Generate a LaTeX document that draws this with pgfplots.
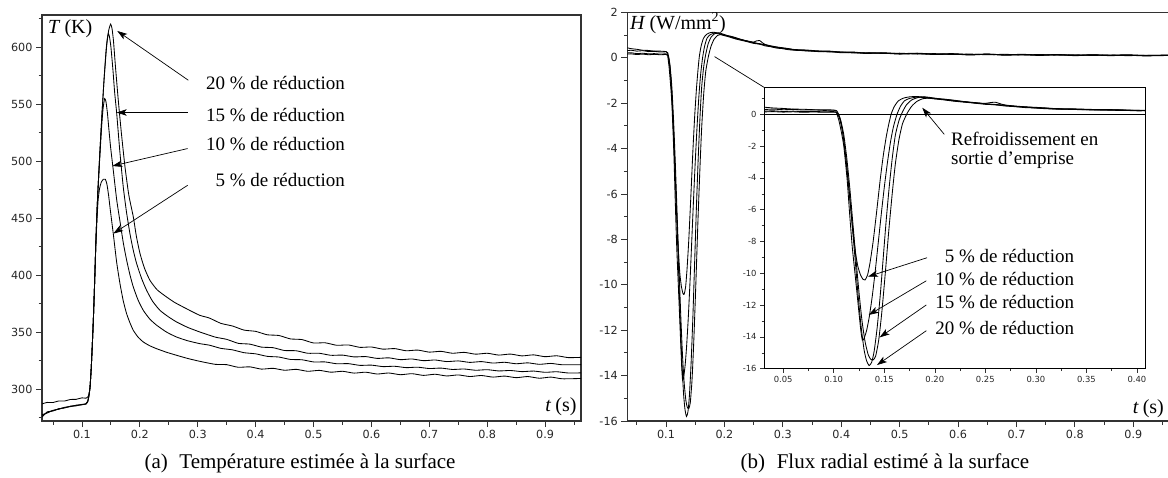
\documentclass[border=0pt]{standalone}
\usepackage{fontspec}
\setmainfont{Liberation Serif}
\newfontfamily\dejavu{DejaVu Sans}
\usepackage{pgfplots}
\pgfplotsset{compat=1.18}
\usepackage{pgfplotstable}
\usetikzlibrary{arrows.meta}
\newcommand\annot{\fontsize{19}{19}\selectfont}
\newcommand\lbl{\fontsize{20}{21}\selectfont}
\newcommand\capf{\fontsize{21}{23}\selectfont}

% ---------- Temperature (K) ----------
\pgfplotstableread{
t v
0.031 275.5
0.04 280.0
0.05 280.8
0.06 282.8
0.07 283.4
0.08 285.0
0.09 285.3
0.1 286.6
0.107 286.8
0.110 289
0.112 294
0.114 302
0.116 318
0.118 340
0.120 365
0.122 395
0.124 426
0.126 449
0.128 466
0.1305 476
0.1335 481.5
0.137 484
0.1403 484
0.143 480
0.146 470
0.149 457
0.1541 436.3
0.160 411
0.1657 392.4
0.1715 377
0.1772 366
0.183 358
0.1887 351.5
0.197 345.5
0.206 341.3
0.217 338
0.229 335.4
0.246 332.3
0.2636 329.6
0.283 326.8
0.3039 324.3
0.33 321.7
0.35 321.4
0.37 319.1
0.39 319.5
0.41 317.5
0.43 318.2
0.45 316.5
0.47 317.3
0.49 315.6
0.51 316.4
0.53 314.8
0.55 315.6
0.57 314.0
0.59 314.8
0.61 313.2
0.63 314.1
0.65 312.6
0.67 313.5
0.69 312.0
0.71 313.0
0.73 311.5
0.75 312.4
0.77 311.0
0.79 311.9
0.81 310.5
0.83 311.4
0.85 310.0
0.87 311.0
0.89 309.5
0.91 310.5
0.93 309.0
0.962 309.3
}\Tfive

\pgfplotstableread{
t v
0.031 277.5
0.04 279.0
0.05 281.4
0.06 282.3
0.07 284.0
0.08 284.6
0.09 285.9
0.1 286.2
0.107 287.2
0.110 289.5
0.112 294
0.114 302
0.116 318
0.118 340
0.120 365
0.122 395
0.124 428
0.126 456
0.128 478
0.131 505
0.134 530
0.1365 546
0.1392 554.7
0.1415 552
0.144 542
0.1465 528
0.1495 512
0.1541 492
0.160 466
0.1657 447
0.1715 428
0.1772 413
0.183 400
0.1887 389.5
0.197 378
0.206 369
0.217 361.5
0.229 356
0.246 350
0.2636 345.6
0.283 342.3
0.3039 339.8
0.32 338.5
0.34 335.7
0.36 334.4
0.38 331.9
0.40 330.9
0.42 328.7
0.44 328.1
0.46 326.0
0.48 325.7
0.50 323.8
0.52 323.8
0.54 322.2
0.56 322.3
0.58 320.8
0.60 321.0
0.62 319.7
0.64 320.0
0.66 318.8
0.68 319.2
0.70 318.0
0.72 318.4
0.74 317.2
0.76 317.6
0.78 316.5
0.80 317.0
0.82 315.9
0.84 316.3
0.86 315.3
0.88 315.8
0.90 314.7
0.92 315.2
0.94 314.1
0.962 314.2
}\Tten

\pgfplotstableread{
t v
0.031 276.0
0.04 279.6
0.05 281.0
0.06 282.6
0.07 283.7
0.08 284.8
0.09 285.6
0.1 286.4
0.107 287.0
0.110 289
0.112 294
0.114 302
0.116 318
0.118 340
0.120 365
0.122 395
0.124 428
0.126 456
0.128 478
0.131 508
0.134 536
0.138 570
0.1415 596
0.1435 606
0.1455 611.7
0.1475 609
0.150 600
0.1535 580
0.1565 560
0.1599 542.4
0.1655 508
0.1714 477
0.177 455
0.1829 436.3
0.1885 422
0.1945 410
0.203 397
0.2117 386.6
0.222 377
0.2348 369
0.249 363.5
0.2636 358.8
0.283 354
0.3039 350
0.33 345.6
0.35 343.6
0.37 340.1
0.39 339.4
0.41 336.8
0.43 336.3
0.45 333.8
0.47 333.6
0.49 331.4
0.51 331.4
0.53 329.6
0.55 329.8
0.57 328.2
0.59 328.5
0.61 326.9
0.63 327.4
0.65 325.8
0.67 326.4
0.69 324.9
0.71 325.5
0.73 324.1
0.75 324.7
0.77 323.4
0.79 324.1
0.81 322.8
0.83 323.5
0.85 322.2
0.87 323.0
0.89 321.7
0.91 322.5
0.93 321.3
0.962 321.4
}\Tfifteen

\pgfplotstableread{
t v
0.031 287.0
0.04 288.3
0.05 288.2
0.06 289.6
0.07 289.5
0.08 290.9
0.09 291.0
0.1 292.3
0.107 292.0
0.110 293.0
0.112 295
0.114 302
0.116 318
0.118 340
0.120 365
0.122 395
0.124 428
0.126 456
0.128 478
0.131 508
0.134 536
0.138 570
0.1427 601
0.146 614
0.1495 620
0.152 616
0.1545 605
0.158 582
0.1628 553
0.168 525
0.1743 495
0.181 470
0.1887 451
0.194 434
0.2002 419
0.208 406
0.2175 395.3
0.23 387
0.2463 380.7
0.26 376
0.2751 371.9
0.29 368
0.3039 364.6
0.32 362.3
0.34 357.6
0.36 355.3
0.38 351.7
0.40 350.6
0.42 347.6
0.44 347.0
0.46 344.0
0.48 343.4
0.50 340.4
0.52 340.6
0.54 338.4
0.56 338.7
0.58 336.6
0.60 336.9
0.62 335.0
0.64 335.5
0.66 333.6
0.68 334.2
0.70 332.4
0.72 333.1
0.74 331.4
0.76 332.2
0.78 330.6
0.80 331.4
0.82 329.8
0.84 330.7
0.86 329.1
0.88 330.0
0.90 328.4
0.92 329.2
0.94 327.6
0.962 327.8
}\Ttwenty

% ---------- Flux (W/mm^2) ----------
\pgfplotstableread{
t v
0.031 0.30
0.04 0.33
0.05 0.29
0.06 0.31
0.07 0.27
0.08 0.28
0.09 0.25
0.1 0.26
0.103 0.22
0.106 -0.2
0.108 -0.8
0.110 -1.7
0.112 -2.8
0.114 -4.1
0.116 -5.4
0.118 -6.7
0.120 -7.9
0.122 -8.9
0.124 -9.6
0.1265 -10.1
0.129 -10.38
0.131 -10.42
0.1335 -10.1
0.136 -9.3
0.139 -8.0
0.1425 -6.1
0.146 -4.1
0.149 -2.6
0.152 -1.4
0.1545 -0.6
0.157 0.05
0.160 0.5
0.164 0.85
0.169 1.02
0.175 1.1
0.182 1.12
0.19 1.08
0.20 0.98
0.21 0.9
0.22 0.82
0.23 0.76
0.24 0.70
0.25 0.63
0.26 0.6
0.27 0.52
0.28 0.48
0.29 0.42
0.30 0.40
0.31 0.35
0.32 0.34
0.34 0.30
0.36 0.29
0.38 0.25
0.40 0.25
0.42 0.21
0.44 0.22
0.47 0.19
0.50 0.2
0.53 0.16
0.56 0.18
0.59 0.14
0.62 0.16
0.65 0.13
0.68 0.15
0.71 0.12
0.74 0.14
0.77 0.11
0.80 0.13
0.83 0.1
0.86 0.12
0.89 0.09
0.92 0.11
0.962 0.1
}\Hfive

\pgfplotstableread{
t v
0.031 0.45
0.04 0.40
0.05 0.37
0.06 0.33
0.07 0.32
0.08 0.29
0.09 0.29
0.1 0.27
0.102 0.22
0.105 -0.36
0.1075 -1.1
0.110 -2.03
0.1133 -4.13
0.1157 -6.23
0.1183 -8.32
0.1217 -10.42
0.125 -12.5
0.1268 -13.6
0.1283 -14.2
0.130 -14.1
0.1325 -13.6
0.135 -12.8
0.138 -11.5
0.141 -9.9
0.144 -8.1
0.147 -6.3
0.150 -4.6
0.153 -3.1
0.156 -1.8
0.159 -0.8
0.1626 0.0
0.166 0.5
0.170 0.85
0.175 1.0
0.182 1.08
0.19 1.05
0.20 0.97
0.21 0.94
0.22 0.86
0.23 0.80
0.24 0.72
0.25 0.69
0.255 0.74
0.26 0.76
0.265 0.66
0.27 0.58
0.28 0.52
0.29 0.47
0.30 0.44
0.31 0.40
0.32 0.36
0.34 0.34
0.36 0.30
0.38 0.29
0.40 0.25
0.42 0.25
0.44 0.21
0.47 0.22
0.50 0.18
0.53 0.2
0.56 0.16
0.59 0.18
0.62 0.14
0.65 0.16
0.68 0.13
0.71 0.15
0.74 0.12
0.77 0.14
0.80 0.11
0.83 0.13
0.86 0.11
0.89 0.13
0.92 0.1
0.962 0.12
}\Hten

\pgfplotstableread{
t v
0.031 0.15
0.04 0.17
0.05 0.14
0.06 0.16
0.07 0.13
0.08 0.15
0.09 0.13
0.1 0.14
0.104 0.08
0.107 -0.4
0.110 -1.3
0.113 -2.8
0.116 -4.7
0.119 -6.9
0.122 -9.1
0.125 -11.2
0.128 -13.0
0.131 -14.3
0.134 -15.1
0.1365 -15.4
0.139 -15.45
0.1415 -15.2
0.1445 -14.2
0.1475 -12.5
0.151 -10.0
0.1545 -7.3
0.158 -4.9
0.161 -3.1
0.1645 -1.6
0.168 -0.6
0.1725 0.05
0.177 0.5
0.182 0.8
0.188 0.98
0.195 1.02
0.20 1.0
0.21 0.95
0.22 0.88
0.23 0.78
0.24 0.74
0.25 0.66
0.26 0.62
0.27 0.57
0.28 0.5
0.29 0.46
0.30 0.4
0.31 0.38
0.32 0.33
0.34 0.31
0.36 0.27
0.38 0.27
0.40 0.22
0.42 0.23
0.44 0.19
0.47 0.2
0.50 0.16
0.53 0.18
0.56 0.14
0.59 0.16
0.62 0.12
0.65 0.15
0.68 0.11
0.71 0.13
0.74 0.1
0.77 0.13
0.80 0.09
0.83 0.12
0.86 0.09
0.89 0.11
0.92 0.08
0.962 0.1
}\Hfifteen

\pgfplotstableread{
t v
0.031 0.2
0.04 0.22
0.05 0.18
0.06 0.2
0.07 0.17
0.08 0.18
0.09 0.16
0.1 0.17
0.103 0.12
0.106 -0.3
0.109 -1.2
0.112 -2.7
0.115 -4.6
0.118 -6.8
0.121 -9.0
0.124 -11.3
0.127 -13.3
0.130 -14.8
0.1325 -15.5
0.135 -15.8
0.1375 -15.6
0.140 -14.9
0.143 -13.4
0.146 -11.4
0.149 -9.0
0.152 -6.6
0.155 -4.5
0.158 -2.7
0.161 -1.3
0.1645 -0.4
0.168 0.15
0.172 0.6
0.177 0.9
0.183 1.05
0.19 1.1
0.20 1.02
0.21 0.92
0.22 0.84
0.23 0.79
0.24 0.71
0.25 0.67
0.26 0.6
0.27 0.56
0.28 0.49
0.29 0.46
0.30 0.41
0.31 0.39
0.32 0.35
0.34 0.32
0.36 0.28
0.38 0.28
0.40 0.24
0.42 0.24
0.44 0.2
0.47 0.21
0.50 0.17
0.53 0.19
0.56 0.15
0.59 0.17
0.62 0.13
0.65 0.16
0.68 0.12
0.71 0.14
0.74 0.11
0.77 0.14
0.80 0.1
0.83 0.13
0.86 0.1
0.89 0.12
0.92 0.09
0.962 0.11
}\Htwenty

\pgfplotsset{
  myax/.style={
    scale only axis,
    axis line style={black!80, line width=1.1pt},
    tick style={black!80, line width=0.8pt},
    tick align=outside,
    xtick pos=bottom, ytick pos=left,
    major tick length=6pt, minor tick length=3.5pt,
    tick label style={font=\dejavu\fontsize{11.2}{13}\selectfont, text=black!85},
    clip=true,
  },
  curve/.style={black, line width=0.85pt, mark=none, smooth, tension=0.35},
}
\tikzset{
  arr/.style={-{Stealth[length=10pt,width=6.5pt,inset=2.5pt]}, line width=0.7pt, black},
}

\begin{document}
\begin{tikzpicture}
\useasboundingbox (0pt,-477pt) rectangle (1168pt,0pt);

% ================= (a) =================
\begin{axis}[myax, at={(42pt,-421pt)}, anchor=south west,
  width=539pt, height=406pt,
  xmin=0.031, xmax=0.962, ymin=272, ymax=628,
  xtick={0.1,0.2,0.3,0.4,0.5,0.6,0.7,0.8,0.9},
  xticklabels={0.1,0.2,0.3,0.4,0.5,0.6,0.7,0.8,0.9},
  minor xtick={0.05,0.15,0.25,0.35,0.45,0.55,0.65,0.75,0.85,0.95},
  ytick={300,350,400,450,500,550,600},
  yticklabels={300,350,400,450,500,550,600},
  minor ytick={275,325,375,425,475,525,575,625},
]
\addplot[curve] table[x=t,y=v] {\Tfive};
\addplot[curve] table[x=t,y=v] {\Tten};
\addplot[curve] table[x=t,y=v] {\Tfifteen};
\addplot[curve] table[x=t,y=v] {\Ttwenty};

\node[anchor=west, font=\lbl, inner sep=0pt] at (axis cs:0.0414,615.7) {\textit{T}\hspace{0.2em}(K)};
\node[anchor=base east, font=\lbl, inner sep=0pt] at (axis cs:0.9546,280) {\textit{t}\hspace{0.2em}(s)};

\node[anchor=east, font=\annot, inner sep=0pt] at (axis cs:0.5545,568.4) {20~\% de réduction};
\node[anchor=east, font=\annot, inner sep=0pt] at (axis cs:0.5545,540.1) {15~\% de réduction};
\node[anchor=east, font=\annot, inner sep=0pt] at (axis cs:0.5545,514.6) {10~\% de réduction};
\node[anchor=east, font=\annot, inner sep=0pt] at (axis cs:0.5545,483.0) {5~\% de réduction};
\draw[arr] (axis cs:0.2837,570.8) -- (axis cs:0.161,614);
\draw[arr] (axis cs:0.2826,542.5) -- (axis cs:0.160,542.5);
\draw[arr] (axis cs:0.2826,510.9) -- (axis cs:0.1524,495.6);
\draw[arr] (axis cs:0.2826,478.7) -- (axis cs:0.1541,436.3);
\end{axis}

% ================= (b) =================
\begin{axis}[myax, at={(627.3pt,-421pt)}, anchor=south west,
  width=542.2pt, height=408.7pt,
  xmin=0.0337, xmax=0.962, ymin=-16, ymax=2,
  xtick={0.1,0.2,0.3,0.4,0.5,0.6,0.7,0.8,0.9},
  xticklabels={0.1,0.2,0.3,0.4,0.5,0.6,0.7,0.8,0.9},
  minor xtick={0.05,0.15,0.25,0.35,0.45,0.55,0.65,0.75,0.85,0.95},
  ytick={-16,-14,-12,-10,-8,-6,-4,-2,0,2},
  yticklabels={-16,-14,-12,-10,-8,-6,-4,-2,0,2},
  minor ytick={-15,-13,-11,-9,-7,-5,-3,-1,1},
]
\addplot[curve] table[x=t,y=v] {\Hfive};
\addplot[curve] table[x=t,y=v] {\Hten};
\addplot[curve] table[x=t,y=v] {\Hfifteen};
\addplot[curve] table[x=t,y=v] {\Htwenty};
\node[anchor=west, font=\lbl, inner sep=0pt] at (axis cs:0.0383,1.52) {\textit{H}\hspace{0.2em}(W/mm\textsuperscript{2})};
\node[anchor=base east, font=\lbl, inner sep=0pt] at (axis cs:0.9527,-15.65) {\textit{t}\hspace{0.2em}(s)};
\coordinate (src) at (axis cs:0.183,0.05);
\end{axis}

% ================= inset =================
\begin{axis}[myax, name=inset, at={(764pt,-368.7pt)}, anchor=south west,
  width=381pt, height=281.4pt,
  axis background/.style={fill=white},
  axis line style={black, line width=0.8pt},
  tick style={black!80, line width=0.6pt},
  major tick length=4pt, minor tick length=2.5pt,
  tick label style={font=\dejavu\fontsize{8.4}{10}\selectfont, text=black!85},
  xmin=0.031, xmax=0.408, ymin=-16, ymax=1.7,
  xtick={0.05,0.10,0.15,0.20,0.25,0.30,0.35,0.40},
  xticklabels={0.05,0.10,0.15,0.20,0.25,0.30,0.35,0.40},
  minor xtick={0.075,0.125,0.175,0.225,0.275,0.325,0.375},
  ytick={-16,-14,-12,-10,-8,-6,-4,-2,0},
  yticklabels={-16,-14,-12,-10,-8,-6,-4,-2,0},
  minor ytick={-15,-13,-11,-9,-7,-5,-3,-1,1},
]
\draw[black, line width=0.8pt] (axis cs:0.031,0) -- (axis cs:0.408,0);
\addplot[curve] table[x=t,y=v] {\Hfive};
\addplot[curve] table[x=t,y=v] {\Hten};
\addplot[curve] table[x=t,y=v] {\Hfifteen};
\addplot[curve] table[x=t,y=v] {\Htwenty};

\node[anchor=west, align=left, font=\annot, inner sep=0pt] at (axis cs:0.216,-2.28) {Refroidissement en\\sortie d'emprise};
\draw[arr] (axis cs:0.2094,-1.26) -- (axis cs:0.1876,0.415);

\node[anchor=east, font=\annot, inner sep=0pt] at (axis cs:0.338,-8.91) {5~\% de réduction};
\node[anchor=east, font=\annot, inner sep=0pt] at (axis cs:0.338,-10.38) {10~\% de réduction};
\node[anchor=east, font=\annot, inner sep=0pt] at (axis cs:0.338,-11.79) {15~\% de réduction};
\node[anchor=east, font=\annot, inner sep=0pt] at (axis cs:0.338,-13.46) {20~\% de réduction};
\draw[arr] (axis cs:0.1923,-9.02) -- (axis cs:0.1339,-10.21);
\draw[arr] (axis cs:0.1916,-10.47) -- (axis cs:0.1345,-12.62);
\draw[arr] (axis cs:0.1916,-11.99) -- (axis cs:0.1454,-14.03);
\draw[arr] (axis cs:0.1916,-13.61) -- (axis cs:0.1428,-15.77);
\end{axis}

\draw[black, line width=0.7pt] (src) -- (inset.north west);

% captions
\node[font=\capf] at (300pt,-463pt) {(a)\hspace{0.55em}Température estimée à la surface};
\node[font=\capf] at (885pt,-463pt) {(b)\hspace{0.55em}Flux radial estimé à la surface};
\end{tikzpicture}
\end{document}
